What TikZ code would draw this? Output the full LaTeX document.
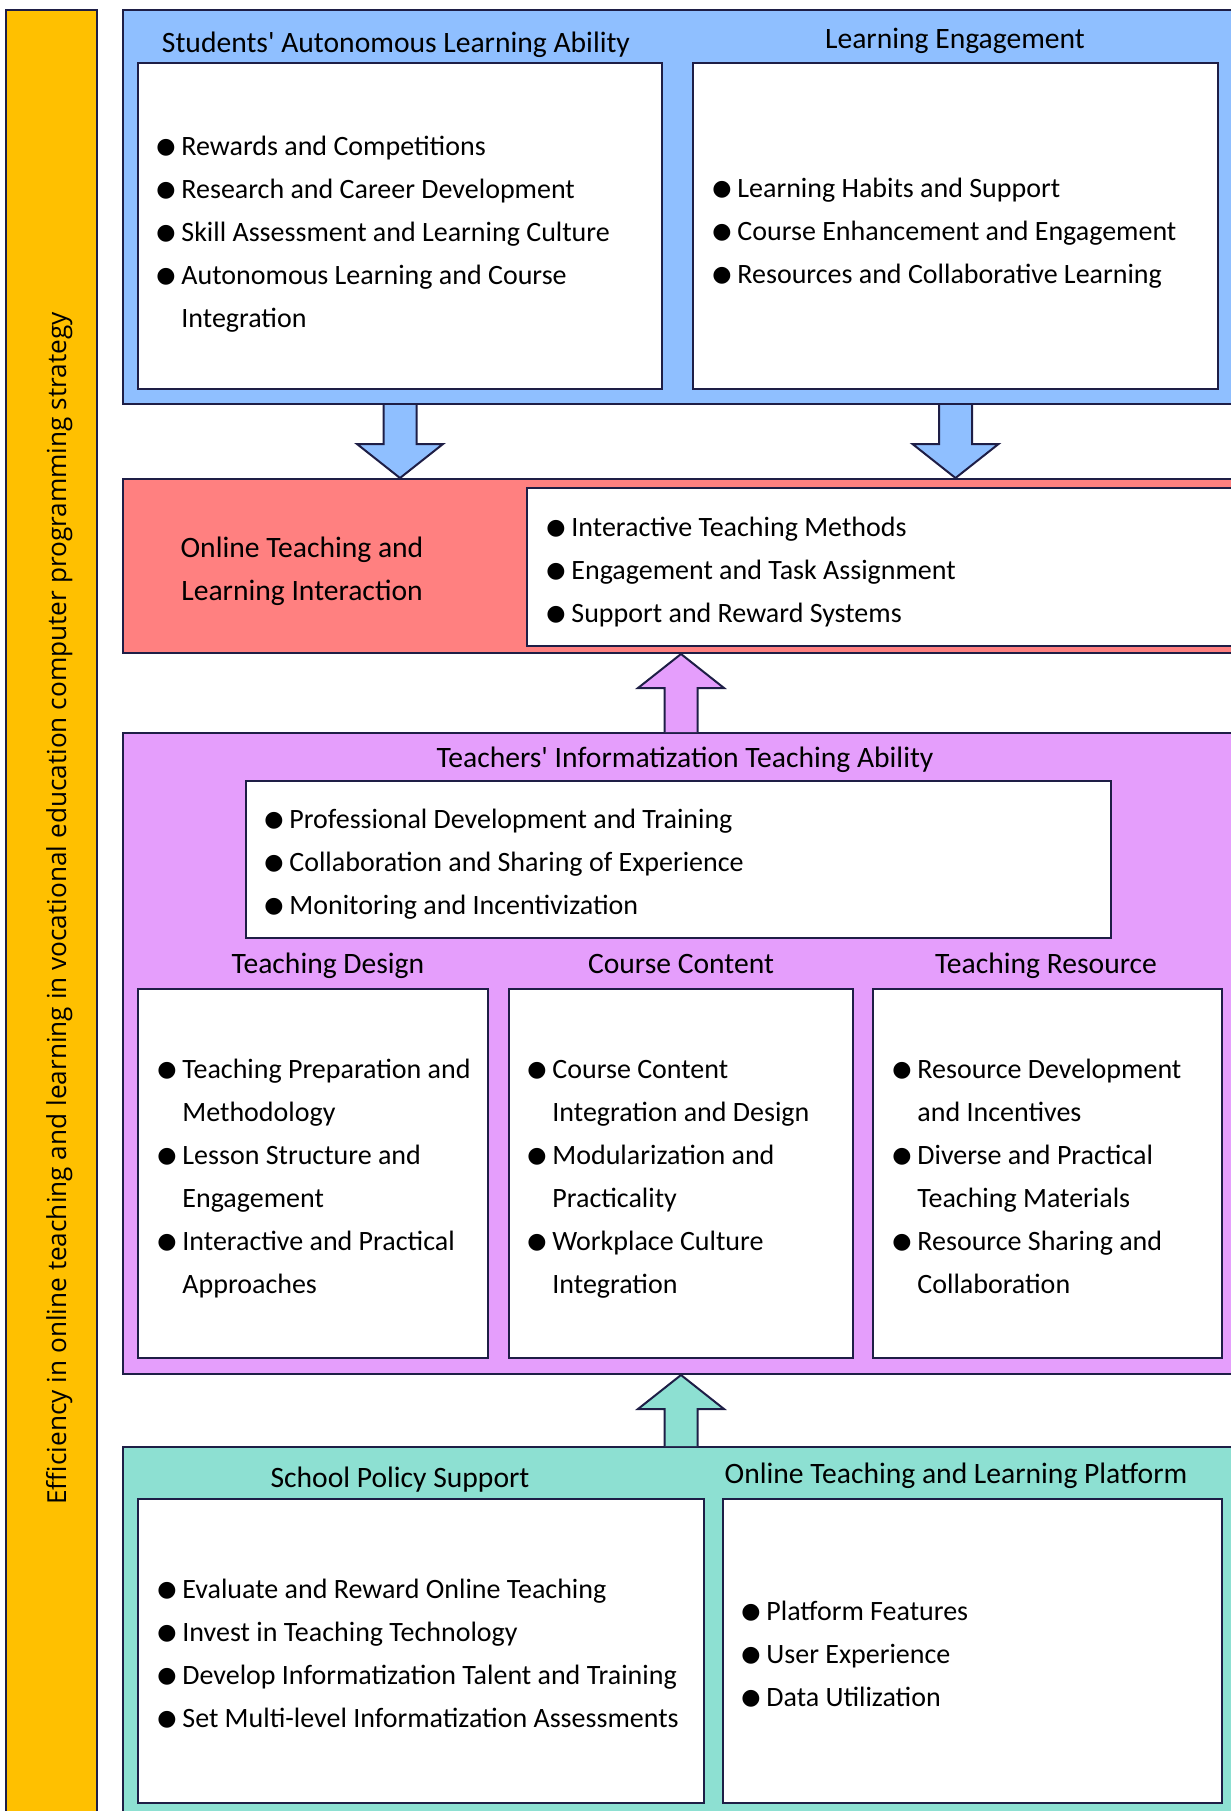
\documentclass[tikz,border=0pt]{standalone}
\usepackage{fontspec}
\setmainfont{Carlito}
\newfontfamily\sidefont{Open Sans}
\newfontfamily\dotfont{DejaVu Sans}
\usetikzlibrary{fit,calc}

\definecolor{goldbar}{RGB}{255,192,0}
\definecolor{blueA}{RGB}{143,191,255}
\definecolor{redA}{RGB}{255,128,128}
\definecolor{pinkA}{RGB}{229,158,252}
\definecolor{tealA}{RGB}{141,224,210}
\definecolor{edge}{RGB}{30,30,70}

\newcommand{\bul}{\makebox[12.5pt][l]{\raisebox{0.8pt}{\dotfont\fontsize{11}{11}\selectfont ●}}}
\newcommand{\ind}{\hspace*{12.5pt}}
% block arrow from one point to another
\newcommand{\blockarrow}[3]{%
  \draw[blk, fill=#3] let \p1=(#1), \p2=(#2), \n1={17pt*sign(\y2-\y1)} in
    ({\x1-8.25pt},\y1) -- ({\x1-8.25pt},{\y2-(\n1)}) -- ({\x1-21.5pt},{\y2-(\n1)})
    -- (\x1,\y2) -- ({\x1+21.5pt},{\y2-(\n1)}) -- ({\x1+8.25pt},{\y2-(\n1)}) -- ({\x1+8.25pt},\y1);}

\tikzset{
  outer/.style={draw=edge, line width=1pt, inner sep=0pt},
  inbox/.style={draw=edge, line width=1pt, fill=white, inner sep=0pt},
  title/.style={font=\fontsize{14.8}{21.5}\selectfont, anchor=base, inner sep=0pt, align=center},
  items/.style={font=\fontsize{14}{21.5}\selectfont, align=left, anchor=base west, inner sep=0pt},
  blk/.style={draw=edge, line width=1pt, line join=miter},
}

\begin{document}
\begin{tikzpicture}[x=0.5pt,y=-0.5pt]
  \useasboundingbox (0,0) rectangle (1231,1811);

  % side bar
  \node[outer, fill=goldbar, fit={(6,10) (97,1830)}] (bar) {};
  \node[rotate=90, anchor=base west, inner sep=0pt, font=\sidefont\fontsize{13.1}{15}\selectfont] (side) at (66,1505)
    {Efficiency in online teaching and learning in vocational education computer programming strategy};

  % top layer (item nodes sit on the baseline of their last line)
  \node[outer, fill=blueA, fit={(123,10) (1240,404)}] (blue) {};
  \node[inbox, fit={(138,63) (662,389)}] (sal) {};
  \node[inbox, fit={(693,63) (1218,389)}] (le) {};
  \node[title] (saltitle) at (396,52) {Students\textquotesingle{} Autonomous Learning Ability};
  \node[title] (letitle) at (955,48) {Learning Engagement};
  \node[items] (salitems) at (156,327) {\bul Rewards and Competitions\\\bul Research and Career Development\\\bul Skill Assessment and Learning Culture\\\bul Autonomous Learning and Course\\\ind Integration};
  \node[items] (leitems) at (712,283) {\bul Learning Habits and Support\\\bul Course Enhancement and Engagement\\\bul Resources and Collaborative Learning};

  % interaction layer
  \node[outer, fill=redA, fit={(123,479) (1240,653)}] (red) {};
  \node[inbox, fit={(527,488) (1240,646)}] (redin) {};
  \node[title] (redtitle) at (302,600) {Online Teaching and\\Learning Interaction};
  \node[items] (reditems) at (546,622) {\bul Interactive Teaching Methods\\\bul Engagement and Task Assignment\\\bul Support and Reward Systems};

  % teachers layer
  \node[outer, fill=pinkA, fit={(123,733) (1240,1374)}] (pink) {};
  \node[inbox, fit={(246,781) (1111,938)}] (tita) {};
  \node[inbox, fit={(138,989) (488,1358)}] (td) {};
  \node[inbox, fit={(509,989) (853,1358)}] (cc) {};
  \node[inbox, fit={(873,989) (1222,1358)}] (tr) {};
  \node[title] (pinktitle) at (685,767) {Teachers\textquotesingle{} Informatization Teaching Ability};
  \node[title] (tdtitle) at (328,973) {Teaching Design};
  \node[title] (cctitle) at (681,973) {Course Content};
  \node[title] (trtitle) at (1046,973) {Teaching Resource};
  \node[items] (titaitems) at (264,914) {\bul Professional Development and Training\\\bul Collaboration and Sharing of Experience\\\bul Monitoring and Incentivization};
  \node[items] (tditems) at (157,1293) {\bul Teaching Preparation and\\\ind Methodology\\\bul Lesson Structure and\\\ind Engagement\\\bul Interactive and Practical\\\ind Approaches};
  \node[items] (ccitems) at (527,1293) {\bul Course Content\\\ind Integration and Design\\\bul Modularization and\\\ind Practicality\\\bul Workplace Culture\\\ind Integration};
  \node[items] (tritems) at (892,1293) {\bul Resource Development\\\ind and Incentives\\\bul Diverse and Practical\\\ind Teaching Materials\\\bul Resource Sharing and\\\ind Collaboration};

  % support layer
  \node[outer, fill=tealA, fit={(123,1447) (1240,1830)}] (teal) {};
  \node[inbox, fit={(138,1499) (704,1803)}] (sps) {};
  \node[inbox, fit={(723,1499) (1222,1803)}] (otlp) {};
  \node[title] (spstitle) at (400,1487) {School Policy Support};
  \node[title] (otlptitle) at (956,1483) {Online Teaching and Learning Platform};
  \node[items] (spsitems) at (157,1727) {\bul Evaluate and Reward Online Teaching\\\bul Invest in Teaching Technology\\\bul Develop Informatization Talent and Training\\\bul Set Multi-level Informatization Assessments};
  \node[items] (otlpitems) at (741,1706) {\bul Platform Features\\\bul User Experience\\\bul Data Utilization};

  % arrows
  \blockarrow{sal.center |- blue.south}{sal.center |- red.north}{blueA}
  \blockarrow{le.center |- blue.south}{le.center |- red.north}{blueA}
  \blockarrow{cc.center |- pink.north}{cc.center |- red.south}{pinkA}
  \blockarrow{cc.center |- teal.north}{cc.center |- pink.south}{tealA}
\end{tikzpicture}
\end{document}
